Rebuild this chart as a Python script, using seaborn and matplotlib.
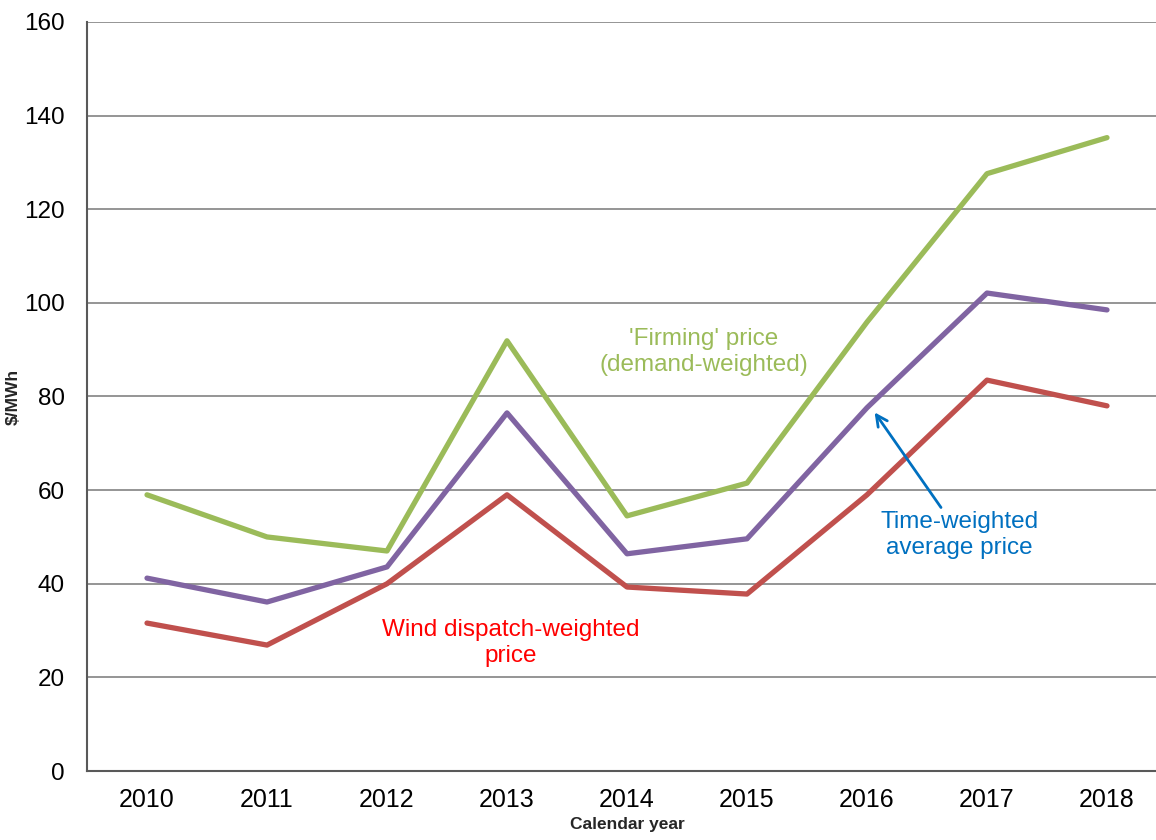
import pandas as pd
import matplotlib.pyplot as plt
import seaborn as sns
import numpy as np

years = ['2010', '2011', '2012', '2013', '2014', '2015', '2016', '2017', '2018']
firming = [59.0, 50.0, 47.0, 91.9, 54.5, 61.5, 95.9, 127.6, 135.3]
time_weighted = [41.2, 36.1, 43.6, 76.5, 46.4, 49.6, 77.6, 102.1, 98.5]
wind = [31.6, 26.9, 40.0, 59.0, 39.3, 37.8, 59.0, 83.5, 78.0]

series = ['firming', 'time', 'wind']
colors = {'firming': '#9BBB59', 'time': '#8064A2', 'wind': '#C0504D'}

df = pd.DataFrame({
    'year': np.tile(np.arange(len(years)), 3),
    'value': firming + time_weighted + wind,
    'series': np.repeat(series, len(years)),
})

sns.set_theme(style='white')
plt.rcParams['font.family'] = ['Liberation Sans', 'DejaVu Sans']

fig = plt.figure(figsize=(11.56, 8.4), dpi=100)
ax = fig.add_axes([87 / 1156, 69 / 840, 1080 / 1156, 749 / 840])

sns.lineplot(data=df, x='year', y='value', hue='series', palette=colors,
             linewidth=3.8, legend=False, ax=ax, zorder=3)

ax.set_xlim(-0.5, 8.5)
ax.set_ylim(0, 160)
ax.set_yticks(np.arange(0, 161, 20))
ax.set_xticks(np.arange(len(years)))
ax.set_xticklabels(years)
ax.set_xticks(np.arange(-0.5, 8.6, 1), minor=True)
ax.tick_params(axis='x', which='major', length=0, labelsize=18, pad=12, colors='black')
ax.tick_params(axis='x', which='minor', length=5, width=1.3, direction='out', color='#595959')
ax.tick_params(axis='y', length=5, width=1.3, direction='out', color='#595959',
               labelsize=17.5, pad=11)
ax.tick_params(axis='y', colors='#595959', labelcolor='black')
ax.grid(axis='y', color='#8c8c8c', linewidth=1.3, zorder=0)
ax.set_axisbelow(True)

for side in ['top', 'right']:
    ax.spines[side].set_visible(False)
for side in ['left', 'bottom']:
    ax.spines[side].set_color('#595959')
    ax.spines[side].set_linewidth(1.5)

ax.set_xlabel('Calendar year', fontsize=12.5, fontweight='bold', labelpad=4)
ax.set_ylabel('$/MWh', fontsize=12.5, fontweight='bold', labelpad=2)

ax.text(4.64, 89.5, "'Firming' price\n(demand-weighted)", color='#9BBB59',
        fontsize=17.5, ha='center', va='center', linespacing=1.25)
ax.text(6.77, 50.4, "Time-weighted\naverage price", color='#0070C0',
        fontsize=17.5, ha='center', va='center', linespacing=1.25)
ax.text(3.03, 27.4, "Wind dispatch-weighted\nprice", color='#FF0000',
        fontsize=17.5, ha='center', va='center', linespacing=1.25)
ax.annotate('', xy=(6.05, 77.1), xytext=(6.63, 55.8),
            arrowprops=dict(arrowstyle='->', color='#0070C0', lw=2,
                            mutation_scale=20), zorder=4)

fig.savefig('out.png', dpi=100)
